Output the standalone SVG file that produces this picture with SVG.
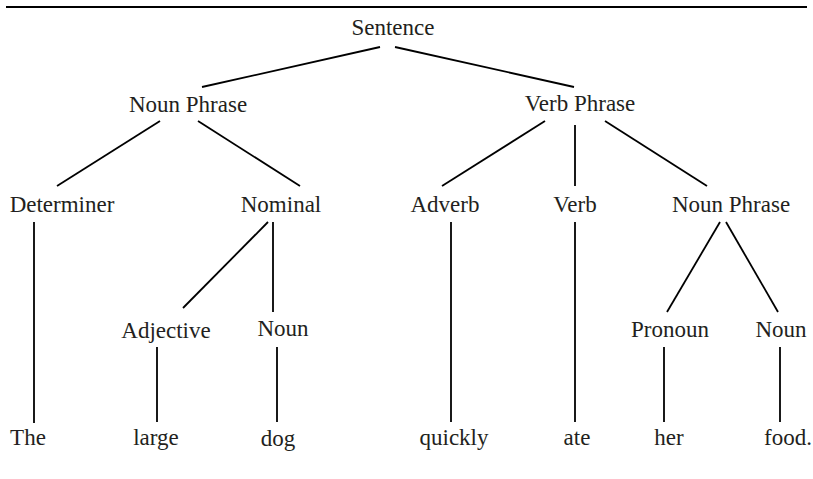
<svg xmlns="http://www.w3.org/2000/svg" width="813" height="479" viewBox="0 0 813 479">
  <style>
    .lbl { font-family: "Liberation Serif", "Times New Roman", serif; font-size: 23px; fill: #231f20; text-anchor: middle; }
    .edge { stroke: #000; stroke-width: 1.8; fill: none; stroke-linecap: butt; }
  </style>
  <rect width="813" height="479" fill="#fff"/>

  <!-- rule across the top -->
  <line x1="6" y1="7" x2="807" y2="7" stroke="#000" stroke-width="2.2"/>

  <!-- branches of the parse tree -->
  <g id="connectors" class="edge">
    <line x1="380" y1="47" x2="202" y2="87"/>
    <line x1="395" y1="47" x2="574" y2="87"/>
    <line x1="160" y1="121" x2="57" y2="186"/>
    <line x1="198" y1="121" x2="300" y2="186"/>
    <line x1="545" y1="121" x2="442" y2="186"/>
    <line x1="575" y1="125" x2="575" y2="186"/>
    <line x1="605" y1="121" x2="707" y2="186"/>
    <line x1="34" y1="222" x2="34" y2="423"/>
    <line x1="268" y1="222" x2="183" y2="308"/>
    <line x1="273" y1="222" x2="273" y2="312"/>
    <line x1="451" y1="222" x2="451" y2="422"/>
    <line x1="575" y1="222" x2="575" y2="422"/>
    <line x1="720" y1="222" x2="667" y2="312"/>
    <line x1="726" y1="222" x2="778" y2="312"/>
    <line x1="157" y1="347" x2="157" y2="422"/>
    <line x1="277" y1="347" x2="277" y2="422"/>
    <line x1="664" y1="347" x2="664" y2="422"/>
    <line x1="780" y1="347" x2="780" y2="422"/>
  </g>

  <g id="sentence"><text class="lbl" x="393" y="35">Sentence</text></g>
  <g id="noun-phrase"><text class="lbl" x="188" y="112">Noun Phrase</text></g>
  <g id="verb-phrase"><text class="lbl" x="580" y="111">Verb Phrase</text></g>

  <g id="determiner"><text class="lbl" x="62" y="212">Determiner</text></g>
  <g id="nominal"><text class="lbl" x="281" y="212">Nominal</text></g>
  <g id="adverb"><text class="lbl" x="445" y="212">Adverb</text></g>
  <g id="verb"><text class="lbl" x="575" y="212">Verb</text></g>
  <g id="noun-phrase-2"><text class="lbl" x="731" y="212">Noun Phrase</text></g>

  <g id="adjective"><text class="lbl" x="166" y="338">Adjective</text></g>
  <g id="noun"><text class="lbl" x="283" y="336">Noun</text></g>
  <g id="pronoun"><text class="lbl" x="670" y="337">Pronoun</text></g>
  <g id="noun-2"><text class="lbl" x="781" y="337">Noun</text></g>

  <g id="word-the"><text class="lbl" x="28" y="445">The</text></g>
  <g id="word-large"><text class="lbl" x="156" y="445">large</text></g>
  <g id="word-dog"><text class="lbl" x="278" y="446">dog</text></g>
  <g id="word-quickly"><text class="lbl" x="454" y="445">quickly</text></g>
  <g id="word-ate"><text class="lbl" x="577" y="445">ate</text></g>
  <g id="word-her"><text class="lbl" x="669" y="445">her</text></g>
  <g id="word-food"><text class="lbl" x="788" y="445">food.</text></g>
</svg>
